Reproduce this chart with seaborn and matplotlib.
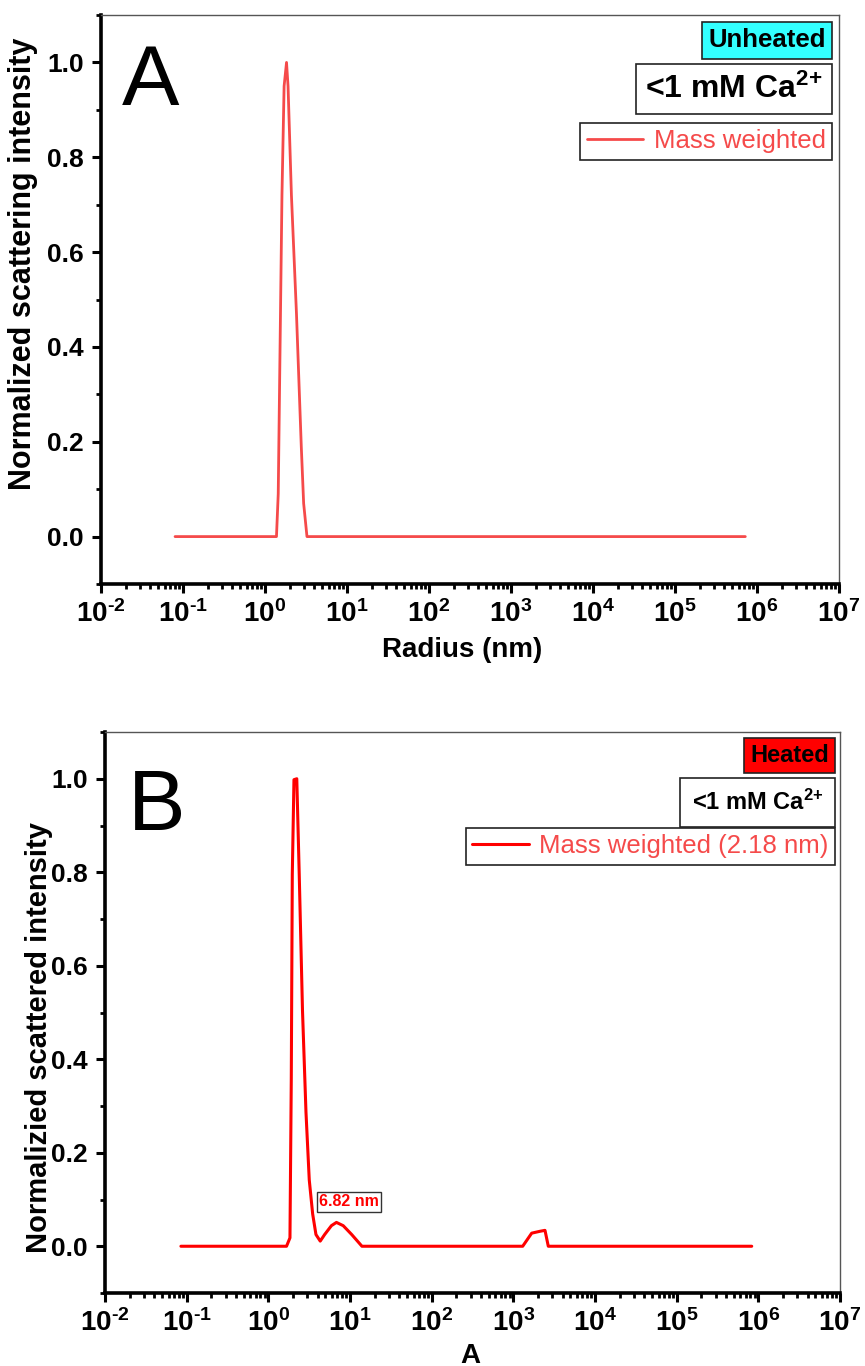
import numpy as np
import matplotlib
matplotlib.use("Agg")
import matplotlib.pyplot as plt
import seaborn as sns
from matplotlib.offsetbox import AnchoredText
from matplotlib.ticker import LogLocator, MultipleLocator, FuncFormatter, NullFormatter, FixedLocator

# ---- data: DLS size distributions (mass weighted, normalized) ----
radius_a = [0.08, 1.38, 1.45, 1.61, 1.71, 1.83, 1.91, 2.10, 2.42, 2.77, 2.96, 3.25, 7.2e5]
intensity_a = [0.0, 0.0, 0.09, 0.72, 0.95, 1.0, 0.95, 0.72, 0.47, 0.19, 0.07, 0.0, 0.0]

radius_b = [0.085, 1.67, 1.84, 1.91, 1.965, 2.06, 2.23, 2.39, 2.62, 2.89, 3.17, 3.49,
            3.83, 4.32, 4.89, 5.92, 6.82, 8.26, 10.5, 14.0, 1302, 1678, 2119, 2442,
            2680, 8.3e5]
intensity_b = [0.0, 0.0, 0.018, 0.359, 0.795, 0.998, 1.0, 0.795, 0.504, 0.287, 0.142, 0.069,
               0.025, 0.011, 0.025, 0.044, 0.051, 0.044, 0.025, 0.0, 0.0, 0.028, 0.032, 0.034,
               0.0, 0.0]

peak2_label = "6.82 nm"
peak2_pos = (9.7, 0.095)

y_ticks = [0.0, 0.2, 0.4, 0.6, 0.8, 1.0]

sns.set_theme(style="white")
plt.rcParams["font.family"] = ["Liberation Sans", "DejaVu Sans"]
plt.rcParams["mathtext.fontset"] = "custom"
plt.rcParams["mathtext.rm"] = "Liberation Sans:bold"
plt.rcParams["mathtext.it"] = "Liberation Sans:bold"
plt.rcParams["mathtext.bf"] = "Liberation Sans:bold"
plt.rcParams["mathtext.sf"] = "Liberation Sans:bold"
for key in ("text.color", "axes.labelcolor", "xtick.color", "ytick.color"):
    plt.rcParams[key] = "black"

fig = plt.figure(figsize=(8.65, 13.66), dpi=100)
ax_a = fig.add_axes([101 / 865, 1 - 584 / 1366, 738 / 865, 569 / 1366])
ax_b = fig.add_axes([105 / 865, 1 - 1293 / 1366, 735 / 865, 561 / 1366])

color_a = "#F54A4A"
color_b = "#FF0000"
legend_text_color = "#F54A4A"


def decade_label(v, pos):
    e = int(round(np.log10(v)))
    return r"$\mathbf{10^{\text{%d}}}$" % e


def style_axes(ax):
    ax.set_xscale("log")
    ax.set_xlim(1e-2, 1e7)
    ax.set_ylim(-0.1, 1.1)
    ax.xaxis.set_major_locator(LogLocator(base=10, numticks=20))
    ax.xaxis.set_minor_locator(LogLocator(base=10, subs=np.arange(2, 10), numticks=200))
    ax.xaxis.set_major_formatter(FuncFormatter(decade_label))
    ax.xaxis.set_minor_formatter(NullFormatter())
    ax.yaxis.set_major_locator(FixedLocator(y_ticks))
    ax.yaxis.set_minor_locator(MultipleLocator(0.1))
    ax.yaxis.set_major_formatter(FuncFormatter(lambda v, p: f"{v:.1f}"))
    for s in ("left", "bottom"):
        ax.spines[s].set_linewidth(2.6)
        ax.spines[s].set_color("black")
    for s in ("top", "right"):
        ax.spines[s].set_linewidth(1.0)
        ax.spines[s].set_color("#555555")
    ax.tick_params(axis="both", which="major", direction="out", length=6.5, width=2.2,
                   color="black", labelcolor="black", labelsize=19,
                   bottom=True, left=True, top=False, right=False)
    ax.tick_params(axis="y", which="major", pad=6)
    ax.tick_params(axis="x", which="major", pad=5, labelsize=20)
    ax.tick_params(axis="both", which="minor", direction="out", length=3.5, width=2.0,
                   color="black", bottom=True, left=True, top=False, right=False)
    for lab in ax.get_yticklabels() + ax.get_xticklabels():
        lab.set_fontweight("bold")
    ax.grid(False)


def boxed(ax, text, xy, size, face, weight="bold", color="black", pad=0.25):
    at = AnchoredText(text, loc="upper right", bbox_to_anchor=xy,
                      bbox_transform=ax.transAxes, borderpad=0, pad=pad, frameon=True,
                      prop=dict(size=size, weight=weight, color=color))
    at.patch.set_boxstyle("square,pad=0")
    at.patch.set_facecolor(face)
    at.patch.set_edgecolor("#222222")
    at.patch.set_linewidth(1.2)
    ax.add_artist(at)
    return at


# ---- panel A: unheated ----
sns.lineplot(x=radius_a, y=intensity_a, ax=ax_a, color=color_a, linewidth=2.0,
             estimator=None, sort=False, label="Mass weighted")
style_axes(ax_a)
ax_a.set_xlabel("Radius (nm)", fontsize=20, fontweight="bold")
ax_a.set_ylabel("Normalized scattering intensity", fontsize=22, fontweight="bold")
ax_a.xaxis.set_label_coords(0.49, -0.093)
ax_a.yaxis.set_label_coords(-0.085, 0.562)
ax_a.text(0.028, 0.842, "A", transform=ax_a.transAxes, fontsize=62, ha="left",
          va="baseline", fontweight="normal")
boxed(ax_a, "Unheated", (0.9905, 0.9877), 18.5, "#33FFFF")
boxed(ax_a, r"<1 mM Ca$^{\text{2+}}$", (0.9905, 0.914), 23, "white", pad=0.3)
leg_a = ax_a.legend(loc="upper right", bbox_to_anchor=(0.9905, 0.8102), fontsize=18.5,
                    frameon=True, fancybox=False, edgecolor="#222222", framealpha=1,
                    borderaxespad=0, borderpad=0.25, handlelength=2.2, handletextpad=0.4,
                    labelcolor=legend_text_color)
leg_a.get_frame().set_linewidth(1.2)

# ---- panel B: heated ----
sns.lineplot(x=radius_b, y=intensity_b, ax=ax_b, color=color_b, linewidth=2.2,
             estimator=None, sort=False, label="Mass weighted (2.18 nm)")
style_axes(ax_b)
ax_b.set_xlabel("A", fontsize=20, fontweight="bold")
ax_b.set_ylabel("Normalizied scattered intensity", fontsize=21, fontweight="bold")
ax_b.xaxis.set_label_coords(0.497, -0.089)
ax_b.yaxis.set_label_coords(-0.071, 0.456)
ax_b.text(0.031, 0.825, "B", transform=ax_b.transAxes, fontsize=62, ha="left",
          va="baseline", fontweight="normal")
boxed(ax_b, "Heated", (0.9932, 0.9893), 17, "#FF0000")
boxed(ax_b, r"<1 mM Ca$^{\text{2+}}$", (0.9932, 0.918), 17, "white", pad=0.5)
leg_b = ax_b.legend(loc="upper right", bbox_to_anchor=(0.9932, 0.8289), fontsize=18.5,
                    frameon=True, fancybox=False, edgecolor="#222222", framealpha=1,
                    borderaxespad=0, borderpad=0.25, handlelength=2.2, handletextpad=0.4,
                    labelcolor=legend_text_color)
leg_b.get_frame().set_linewidth(1.2)
ax_b.text(peak2_pos[0], peak2_pos[1], peak2_label, fontsize=11.5, fontweight="bold",
          color=color_b, ha="center", va="center",
          bbox=dict(boxstyle="square,pad=0.15", facecolor="white", edgecolor="#333333",
                    linewidth=1.0))

fig.savefig("out.png", dpi=100)
